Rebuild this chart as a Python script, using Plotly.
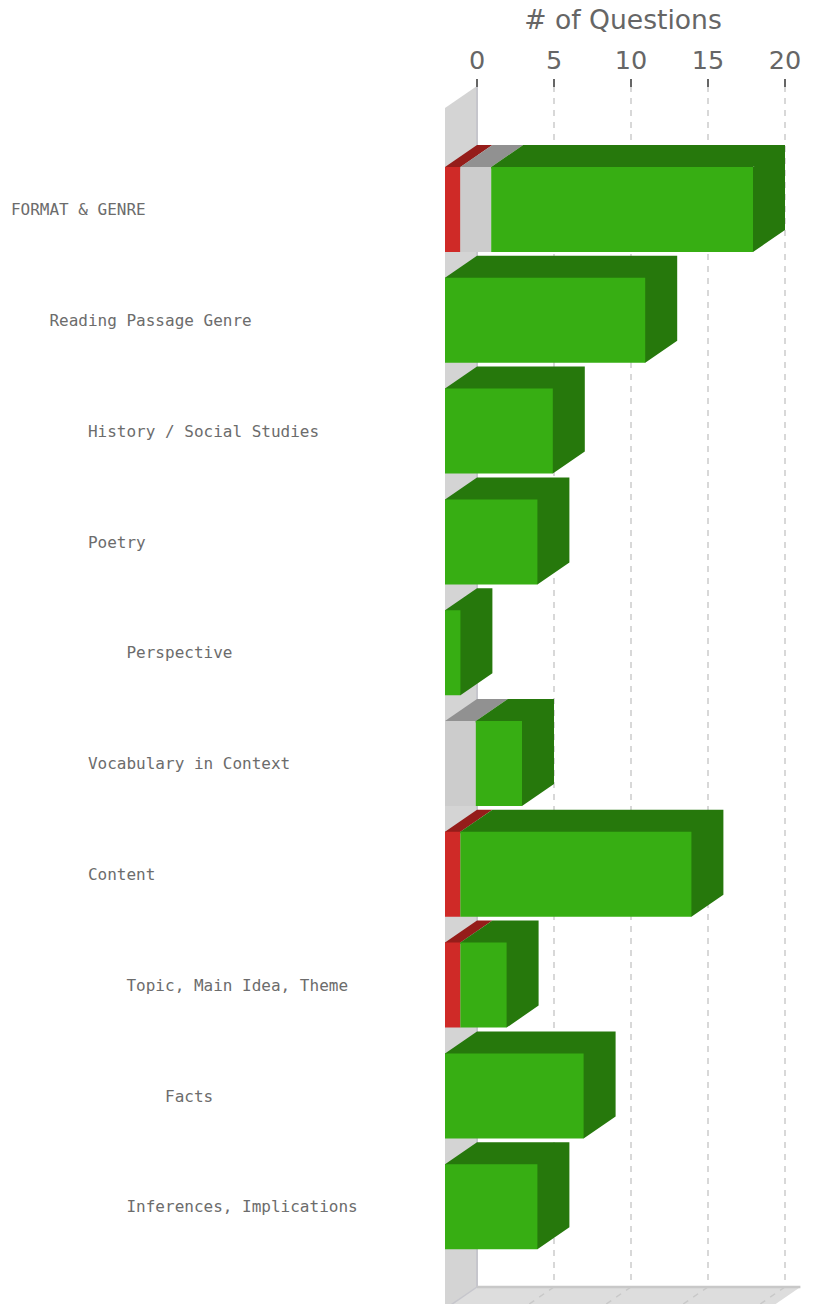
import plotly.graph_objects as go

# ---- data ----
categories = ["FORMAT & GENRE", "Reading Passage Genre", "History / Social Studies", "Poetry",
              "Perspective", "Vocabulary in Context", "Content", "Topic, Main Idea, Theme",
              "Facts", "Inferences, Implications"]
indent_levels = [0, 1, 2, 2, 3, 2, 2, 3, 4, 3]
incorrect = [1, 0, 0, 0, 0, 0, 1, 1, 0, 0]
skipped = [2, 0, 0, 0, 0, 2, 0, 0, 0, 0]
correct = [17, 13, 7, 6, 1, 3, 15, 3, 9, 6]
x_ticks = [0, 5, 10, 15, 20]
x_floor_max = 21

# ---- geometry ----
W, H = 818, 1304
PX_X = 15.4            # pixels per question
PX_Y = 110.8           # pixels per category
X0_PX = 477            # pixel of x = 0 on the back plane
X_LEFT_PX = 428        # left edge of the x axis domain (centres the axis title)
Y0_PX = 209.5          # pixel of first category centre (front face)
TOP_PX, FLOOR_PX = 86, 1287
DX = 32 / PX_X         # depth offset in x units
DY = 22 / PX_Y         # depth offset in category units
HALF = 42.5 / PX_Y     # half bar height
EX, EY = 1.5 / PX_X, 1.5 / PX_Y  # shaded faces tuck under the front face, avoiding seams
LABEL_CHARS = 40
CHAR_PX = 9.63


def y_of(px):
    return (px - Y0_PX) / PX_Y


fig = go.Figure()


def poly(xs, ys, color, name=None):
    fig.add_trace(go.Scatter(x=xs, y=ys, mode="lines", fill="toself", fillcolor=color,
                             line=dict(width=0, color=color), hoverinfo="skip",
                             showlegend=False, name=name))


def bg_poly(pts, color):
    path = "M " + " L ".join(f"{x},{y}" for x, y in pts) + " Z"
    fig.add_shape(type="path", path=path, xref="x", yref="y", fillcolor=color,
                  line=dict(width=0), layer="below")


def bg_line(x0, y0, x1, y1, color, width, dash="solid"):
    fig.add_shape(type="line", x0=x0, y0=y0, x1=x1, y1=y1, xref="x", yref="y",
                  line=dict(color=color, width=width, dash=dash), layer="below")


# wall, floor and grid sit behind the bars
yt, yf = y_of(TOP_PX), y_of(FLOOR_PX)
ybot = y_of(H + 2)
run = (H + 2 - FLOOR_PX) / 22 * DX
bg_poly([(-DX, yt + DY), (0, yt), (0, yf), (-run, ybot), (-DX, ybot)], "#d4d4d4")
bg_poly([(0, yf), (x_floor_max, yf), (x_floor_max - run, ybot), (-run, ybot)], "#dddddd")
for t in x_ticks[1:]:
    bg_line(t, yt, t, yf, "#c8c8c8", 1.4, "6px,6px")
    bg_line(t, yf, t - run, ybot, "#c8c8c8", 1.4, "6px,6px")
bg_line(0, yt, 0, yf, "#c6c6cc", 2)
bg_line(0, yf, x_floor_max, yf, "#c8c8c8", 2.5)
bg_line(0, yf, -run, ybot, "#c6c6cc", 1.5)

# bars
series = [("Incorrect", incorrect, "#cf2a27", "#951d1a"),
          ("Skipped", skipped, "#cccccc", "#919191"),
          ("Correct", correct, "#37ae13", "#26780c")]
base = [0] * len(categories)
totals = [a + b + c for a, b, c in zip(incorrect, skipped, correct)]
for name, vals, front, shade in series:
    fx, fy, sx, sy = [], [], [], []
    for i, v in enumerate(vals):
        if v == 0:
            continue
        l, r = base[i] - DX, base[i] + v - DX
        t, b = i - HALF, i + HALF
        fx += [l, r, r, l, l, None]
        fy += [t, t, b, b, t, None]
        sx += [l, l + DX, r + DX, r, r, l, l, None]
        sy += [t, t - DY, t - DY, t, t + EY, t + EY, t, None]
        if base[i] + v == totals[i]:
            sx += [r - EX, r, r + DX, r + DX, r, r - EX, r - EX, None]
            sy += [t, t, t - DY, b - DY, b, b - EY, t, None]
        base[i] += v
    poly(sx, sy, shade, name)
    poly(fx, fy, front, name)

labels = []
for c, lv in zip(categories, indent_levels):
    s = "\u00a0" * (4 * lv) + c
    labels.append(s + "\u00a0" * (LABEL_CHARS - len(s)))

fig.update_layout(
    width=W, height=H, margin=dict(l=0, r=0, t=0, b=0),
    plot_bgcolor="rgba(0,0,0,0)", paper_bgcolor="white", showlegend=False,
    xaxis=dict(domain=[X_LEFT_PX / W, 1], range=[(X_LEFT_PX - X0_PX) / PX_X, (W - X0_PX) / PX_X],
               side="top", anchor="free",
               position=1 - (TOP_PX + 1) / H, showgrid=False, zeroline=False, showline=False,
               tickmode="array", tickvals=x_ticks, ticks="outside", ticklen=8, tickwidth=2,
               tickcolor="#666666", tickfont=dict(family="DejaVu Sans", size=25.5, color="#666666"),
               title=dict(text="# of Questions", standoff=6,
                          font=dict(family="DejaVu Sans", size=26.6, color="#666666"))),
    yaxis=dict(range=[y_of(H), y_of(0)], anchor="free",
               position=(8 + LABEL_CHARS * CHAR_PX + 3) / W, showgrid=False, zeroline=False, showline=False,
               tickmode="array", tickvals=list(range(len(categories))), ticktext=labels, ticks="",
               tickfont=dict(family="DejaVu Sans Mono", size=16, color="#6c6c6c")),
)
fig.write_html("out.html", config=dict(displayModeBar=False),
               post_script="document.body.style.margin='0';document.body.style.overflow='hidden';")
